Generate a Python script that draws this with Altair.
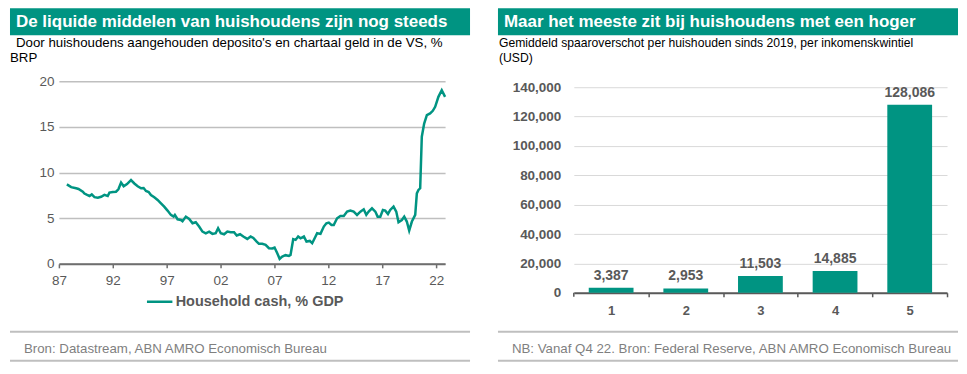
import altair as alt
import pandas as pd

FONT = "Liberation Sans"
GREEN = "#009482"
AXIS_GREY = "#595959"
SOURCE_GREY = "#7F7F7F"
RULE_GREY = "#BFBFBF"

# ---------------- left panel data ----------------
years = [1987.74, 1988.14, 1988.60, 1988.82, 1989.22, 1989.37, 1989.62, 1989.84, 1990.05, 1990.30,
         1990.61, 1990.92, 1991.22, 1991.53, 1991.69, 1992.00, 1992.30, 1992.52, 1992.77, 1993.01,
         1993.32, 1993.69, 1994.00, 1994.31, 1994.62, 1994.86, 1995.08, 1995.33, 1995.54, 1995.85,
         1996.16, 1996.47, 1996.77, 1997.08, 1997.39, 1997.64, 1997.76, 1998.01, 1998.32, 1998.47,
         1998.78, 1999.09, 1999.40, 1999.70, 2000.01, 2000.32, 2000.63, 2000.94, 2001.25, 2001.55,
         2001.77, 2002.02, 2002.33, 2002.63, 2002.94, 2003.25, 2003.50, 2003.81, 2004.11, 2004.48,
         2004.79, 2005.04, 2005.35, 2005.56, 2005.87, 2006.18, 2006.49, 2006.80, 2007.01, 2007.26,
         2007.48, 2007.72, 2008.03, 2008.34, 2008.49, 2008.74, 2008.96, 2009.20, 2009.42, 2009.73,
         2009.97, 2010.28, 2010.50, 2010.81, 2010.96, 2011.27, 2011.58, 2011.82, 2012.04, 2012.29,
         2012.50, 2012.81, 2013.12, 2013.43, 2013.74, 2014.04, 2014.35, 2014.66, 2014.97, 2015.28,
         2015.52, 2015.74, 2016.05, 2016.36, 2016.57, 2016.82, 2017.06, 2017.28, 2017.53, 2017.74,
         2018.05, 2018.30, 2018.51, 2018.82, 2019.04, 2019.28, 2019.50, 2019.75, 2020.06, 2020.21,
         2020.36, 2020.52, 2020.67, 2020.89, 2021.14, 2021.44, 2021.69, 2021.91, 2022.21, 2022.52,
         2022.83]
cash = [8.70, 8.40, 8.27, 8.20, 7.90, 7.70, 7.55, 7.43, 7.60, 7.30,
        7.25, 7.35, 7.55, 7.43, 7.80, 7.87, 7.90, 8.16, 8.90, 8.50,
        8.74, 9.18, 8.80, 8.50, 8.27, 8.30, 7.98, 7.87, 7.54, 7.29,
        7.00, 6.63, 6.27, 5.83, 5.36, 5.17, 5.36, 4.88, 4.80, 4.66,
        5.17, 4.92, 4.44, 4.55, 4.08, 3.53, 3.35, 3.53, 3.28, 3.35,
        3.90, 3.35, 3.24, 3.53, 3.46, 3.46, 3.10, 3.24, 2.99, 2.73,
        2.99, 2.84, 2.44, 2.19, 2.19, 2.08, 1.71, 1.68, 1.78, 1.17,
        0.55, 0.80, 0.95, 0.87, 0.98, 2.70, 2.62, 2.99, 2.80, 2.99,
        2.44, 2.51, 2.26, 2.99, 3.35, 3.28, 4.08, 4.44, 4.52, 4.26,
        4.26, 4.99, 5.25, 5.25, 5.72, 5.83, 5.72, 5.36, 5.72, 5.97,
        5.36, 5.72, 6.08, 5.72, 5.17, 5.17, 5.90, 5.83, 5.46, 5.90,
        6.27, 5.72, 4.55, 4.80, 5.17, 4.63, 3.64, 4.63, 5.36, 7.72,
        8.09, 8.27, 13.92, 15.37, 16.28, 16.47, 16.76, 17.20, 18.29, 19.02,
        18.29]
series_name = "Household cash, % GDP"
x_ticks = [1987, 1992, 1997, 2002, 2007, 2012, 2017, 2022]
y_ticks_left = [0, 5, 10, 15, 20]

left_title = "De liquide middelen van huishoudens zijn nog steeds"
left_subtitle = ["Door huishoudens aangehouden deposito's en chartaal geld in de VS, %", "BRP"]
left_source = "Bron: Datastream, ABN AMRO Economisch Bureau"

# ---------------- right panel data ----------------
quintiles = ["1", "2", "3", "4", "5"]
savings = [3387, 2953, 11503, 14885, 128086]
y_ticks_right = [0, 20000, 40000, 60000, 80000, 100000, 120000, 140000]
y_top_right = 144078  # top of the plot area (gridline 140,000 sits 6px below it)

right_title = "Maar het meeste zit bij huishoudens met een hoger"
right_subtitle = ["Gemiddeld spaaroverschot per huishouden sinds 2019, per inkomenskwintiel", "(USD)"]
right_source = "NB: Vanaf Q4 22. Bron: Federal Reserve, ABN AMRO Economisch Bureau"

one = pd.DataFrame({"d": [0]})


def txt(text, x, y, size, color, weight="normal"):
    return alt.Chart(one).mark_text(text=text, font=FONT, fontSize=size, fontWeight=weight,
                                    color=color, align="left", baseline="alphabetic").encode(
        x=alt.value(x), y=alt.value(y))


def hrule(x0, x1, y, color=RULE_GREY, width=2):
    return alt.Chart(one).mark_rule(color=color, strokeWidth=width).encode(
        x=alt.value(x0), x2=alt.value(x1), y=alt.value(y))


def decorations(x0, x1, title, title_x, sub, sub_x1, sub_x2, sub_size, source, src_x):
    hdr = alt.Chart(one).mark_rect(color=GREEN).encode(
        x=alt.value(x0), x2=alt.value(x1), y=alt.value(-73), y2=alt.value(-46))
    return [
        hdr,
        txt(title, title_x, -54, 17, "white", "bold"),
        txt(sub[0], sub_x1, -34, sub_size, "black"),
        txt(sub[1], sub_x2, -19, sub_size, "black"),
        hrule(x0, x1, 251),
        hrule(x0, x1, 280),
        txt(source, src_x, 272, 13.3, SOURCE_GREY),
    ]


# ---------------- left chart ----------------
W1, H1 = 387, 183
line_df = pd.DataFrame({"year": years, "cash": cash, "series": series_name})

line = alt.Chart(line_df).mark_line(strokeWidth=2.5).encode(
    x=alt.X("year:Q",
            scale=alt.Scale(domain=[1987, 2022.83], nice=False, zero=False),
            axis=alt.Axis(values=x_ticks, labelExpr="substring(toString(datum.value), 2, 4)",
                          title=None, grid=False, labelFlush=False,
                          domainColor="#6E6E6E", domainWidth=2,
                          tickColor="#6E6E6E", tickWidth=1.5, tickSize=4,
                          labelFont=FONT, labelFontSize=13.5, labelColor=AXIS_GREY,
                          labelPadding=6)),
    y=alt.Y("cash:Q",
            scale=alt.Scale(domain=[0, 20], nice=False),
            axis=alt.Axis(values=y_ticks_left, title=None, domain=False, ticks=False,
                          gridColor=RULE_GREY, gridWidth=1.5,
                          labelFont=FONT, labelFontSize=13.5, labelColor=AXIS_GREY,
                          labelPadding=5)),
    color=alt.Color("series:N", scale=alt.Scale(range=[GREEN]),
                    legend=alt.Legend(orient="none", legendX=87, legendY=207, title=None,
                                      symbolType="stroke", symbolSize=650, symbolStrokeWidth=2.5,
                                      labelFont=FONT, labelFontSize=14.5, labelFontWeight="bold",
                                      labelColor=AXIS_GREY, labelOffset=2, labelLimit=400,
                                      padding=0)),
)

left = alt.layer(
    line,
    *decorations(-49, 412, left_title, -43, left_subtitle, -43, -49, 13.3, left_source, -35),
).properties(width=W1, height=H1)

# ---------------- right chart ----------------
W2, H2 = 374, 212
bar_df = pd.DataFrame({"q": quintiles, "v": savings})

base = alt.Chart(bar_df).encode(
    x=alt.X("q:N", sort=None,
            scale=alt.Scale(paddingInner=0.4, paddingOuter=0.2),
            axis=alt.Axis(title=None, labelAngle=0, labelFont=FONT, labelFontSize=13,
                          labelFontWeight="bold", labelColor=AXIS_GREY, labelPadding=8,
                          domainColor=AXIS_GREY, domainWidth=2,
                          tickColor=AXIS_GREY, tickWidth=1.5, tickSize=4,
                          bandPosition=1, tickOffset=15, labelOffset=-15)),
    y=alt.Y("v:Q",
            scale=alt.Scale(domain=[0, y_top_right], nice=False),
            axis=alt.Axis(values=y_ticks_right, format=",.0f", title=None, domain=False,
                          ticks=False, gridColor="#D9D9D9", gridWidth=1,
                          labelFont=FONT, labelFontSize=13.5, labelFontWeight="bold",
                          labelColor=AXIS_GREY, labelPadding=13)),
)
bars = base.mark_bar(color=GREEN)
labels = base.mark_text(font=FONT, fontSize=14, fontWeight="bold", color=AXIS_GREY,
                        baseline="alphabetic", dy=-8).encode(text=alt.Text("v:Q", format=",.0f"))
first_tick = alt.Chart(one).mark_rule(color=AXIS_GREY, strokeWidth=1.5).encode(
    x=alt.value(0), y=alt.value(H2), y2=alt.value(H2 + 4))

right = alt.layer(
    bars, labels, first_tick,
    *decorations(-76, 385, right_title, -70, right_subtitle, -75, -75, 12.2, right_source, -62),
).properties(width=W2, height=H2)

chart = alt.hconcat(left, right, spacing=26).properties(
    padding={"left": 1, "top": 0, "right": 0, "bottom": 0}
).configure_view(stroke=None)

chart.save("out.html", embed_options={"renderer": "svg", "actions": False})
